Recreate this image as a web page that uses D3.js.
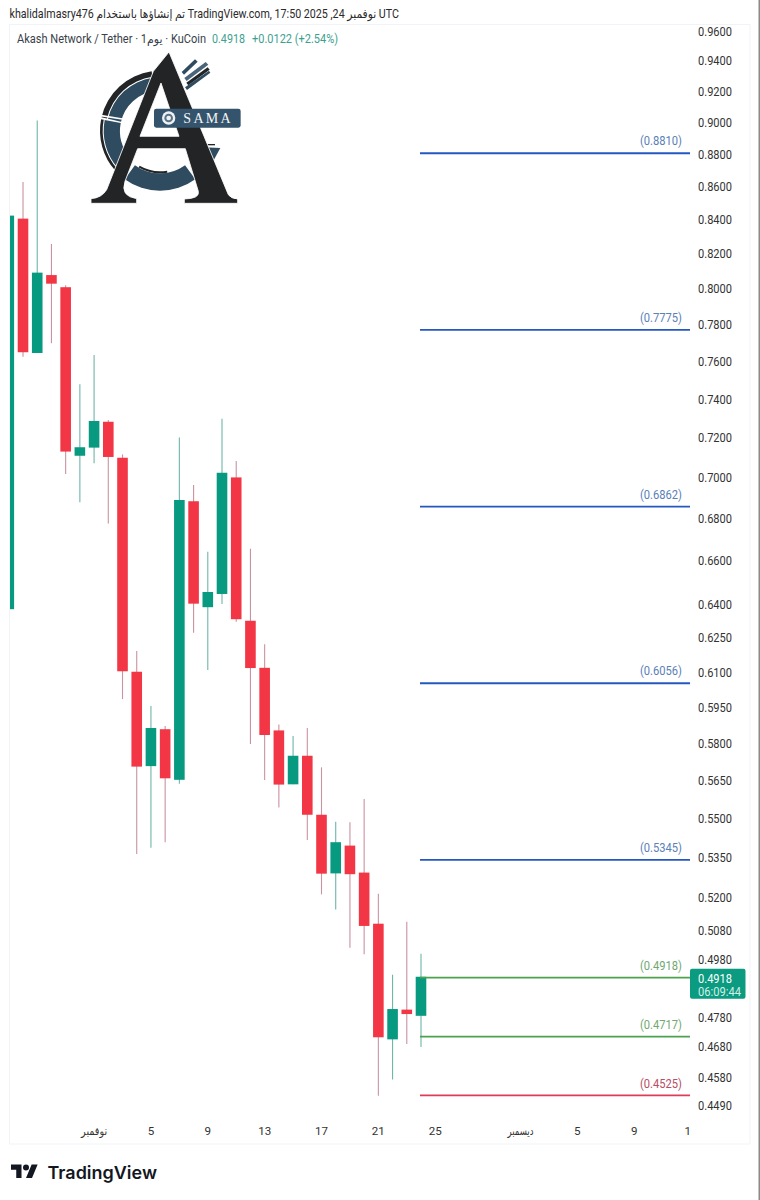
<!DOCTYPE html>
<html>
<head>
<meta charset="utf-8">
<style>
  html, body { margin: 0; padding: 0; background: #fff; }
  text { font-family: Roboto, "DejaVu Sans", sans-serif; }
</style>
</head>
<body>
<div id="chart"></div>
<script src="https://cdn.jsdelivr.net/npm/d3@7"></script>
<script>
// Daily candles, 26 Oct 2025 to 24 Nov 2025
var firstDay = new Date(Date.UTC(2025, 9, 26));
var lastDay = new Date(Date.UTC(2025, 10, 24));

var openP  = [0.6378, 0.8407, 0.7645, 0.8078, 0.8009, 0.7109, 0.7150, 0.7282, 0.7099, 0.6102, 0.5708, 0.5859, 0.5653, 0.6884, 0.6387, 0.6447, 0.7001, 0.6326, 0.6119, 0.5854, 0.5635, 0.5750, 0.5515, 0.5291, 0.5396, 0.5294, 0.5106, 0.4705, 0.4805, 0.4784];
var highP  = [0.8425, 0.8628, 0.9011, 0.8258, 0.8020, 0.7478, 0.7634, 0.7291, 0.7116, 0.6192, 0.5956, 0.5872, 0.7202, 0.6964, 0.6643, 0.7298, 0.7083, 0.6657, 0.6222, 0.5879, 0.5831, 0.5864, 0.5703, 0.5488, 0.5486, 0.5577, 0.5215, 0.4925, 0.5113, 0.4999];
var lowP   = [0.6378, 0.7625, 0.7645, 0.7698, 0.7018, 0.6879, 0.7071, 0.6777, 0.5985, 0.5364, 0.5388, 0.5409, 0.5637, 0.6273, 0.6110, 0.6401, 0.6322, 0.5798, 0.5652, 0.5543, 0.5635, 0.5417, 0.5213, 0.5158, 0.5020, 0.4997, 0.4521, 0.4573, 0.4690, 0.4680];
var closeP = [0.8425, 0.7649, 0.8092, 0.8029, 0.7130, 0.7152, 0.7286, 0.7103, 0.6104, 0.5706, 0.5864, 0.5659, 0.6890, 0.6403, 0.6456, 0.7024, 0.6333, 0.6118, 0.5835, 0.5634, 0.5750, 0.5515, 0.5290, 0.5409, 0.5288, 0.5098, 0.4712, 0.4807, 0.4790, 0.4918];

// Horizontal levels drawn on the chart
var levelPrices = [0.8810, 0.7775, 0.6862, 0.6056, 0.5345, 0.4918, 0.4717, 0.4525];
var levelKinds  = ["blue", "blue", "blue", "blue", "blue", "green", "green", "red"];

// Axis ticks
var priceTicks = [0.96, 0.94, 0.92, 0.90, 0.88, 0.86, 0.84, 0.82, 0.80, 0.78, 0.76, 0.74, 0.72, 0.70, 0.68, 0.66, 0.64, 0.625, 0.61, 0.595, 0.58, 0.565, 0.55, 0.535, 0.52, 0.508, 0.498, 0.478, 0.468, 0.458, 0.449];
var timeTicks = [[2025, 10, 1], [2025, 10, 5], [2025, 10, 9], [2025, 10, 13], [2025, 10, 17], [2025, 10, 21], [2025, 10, 25], [2025, 11, 1], [2025, 11, 5], [2025, 11, 9], [2025, 11, 13]];
var timeLabels = ["نوفمبر", "5", "9", "13", "17", "21", "25", "ديسمبر", "5", "9", "13"];

var lastPrice = 0.4918;
var countdown = "06:09:44";

var svgWidth = 760;
var svgHeight = 1200;

var colors = {
  up: "#089981", down: "#f23645", upWick: "#6fb5aa", downWick: "#c9939f",
  blue: "#2458c0", green: "#4ba24f", red: "#dc3d58",
  blueText: "#5a80b8", greenText: "#6fa871", redText: "#b84d63",
  frame: "#f0f3f7", text: "#333"
};

var svg = d3.select("#chart")
  .append("svg")
  .attr("width", svgWidth)
  .attr("height", svgHeight)
  .style("display", "block");

svg.append("rect").attr("width", svgWidth).attr("height", svgHeight).attr("fill", "#fff");
svg.append("rect").attr("x", 758.5).attr("width", 1.5).attr("height", svgHeight).attr("fill", "#8a8a8a");

// Chart frame
svg.append("rect")
  .attr("x", 9.5).attr("y", 24.5)
  .attr("width", 740.5).attr("height", 1119.5)
  .attr("fill", "none")
  .attr("stroke", colors.frame);

// Scales
var x = d3.scaleUtc().domain([firstDay, lastDay]).range([8.8, 421]);
var y = d3.scaleLog().domain([0.449, 0.96]).range([1105.5, 31]);

var defs = svg.append("defs");
defs.append("clipPath").attr("id", "plotClip").append("rect")
  .attr("x", 10).attr("y", 25).attr("width", 680).attr("height", 1095);
defs.append("clipPath").attr("id", "timeClip").append("rect")
  .attr("x", 10).attr("y", 1115).attr("width", 679.5).attr("height", 28);

// Text squeezed sideways to the width it has in the picture
function squeeze(sel, width) {
  return sel.attr("textLength", width).attr("lengthAdjust", "spacingAndGlyphs");
}

// Logo sits behind the candles
drawLogo(svg.append("g").attr("transform", "translate(85,48) scale(0.3333)"));

// Candles
var days = d3.utcDay.range(firstDay, d3.utcDay.offset(lastDay, 1));
var candles = days.map(function(day, i) {
  return { day: day, open: openP[i], high: highP[i], low: lowP[i], close: closeP[i] };
});

var plot = svg.append("g").attr("clip-path", "url(#plotClip)");
var bodyWidth = 10.6;

plot.selectAll(".wick")
  .data(candles)
  .enter()
  .append("line")
  .attr("class", "wick")
  .attr("x1", d => x(d.day))
  .attr("x2", d => x(d.day))
  .attr("y1", d => y(d.high))
  .attr("y2", d => y(d.low))
  .attr("stroke", d => d.close >= d.open ? colors.upWick : colors.downWick)
  .attr("stroke-width", 1.1);

plot.selectAll(".body")
  .data(candles)
  .enter()
  .append("rect")
  .attr("class", "body")
  .attr("x", d => x(d.day) - bodyWidth / 2)
  .attr("y", d => y(Math.max(d.open, d.close)))
  .attr("width", bodyWidth)
  .attr("height", d => Math.abs(y(d.open) - y(d.close)))
  .attr("fill", d => d.close >= d.open ? colors.up : colors.down);

// Levels with their labels
var levels = levelPrices.map(function(p, i) { return { price: p, kind: levelKinds[i] }; });

plot.selectAll(".level")
  .data(levels)
  .enter()
  .append("line")
  .attr("class", "level")
  .attr("x1", x(lastDay) - 1)
  .attr("x2", 690)
  .attr("y1", d => y(d.price) + 0.8)
  .attr("y2", d => y(d.price) + 0.8)
  .attr("stroke", d => colors[d.kind])
  .attr("stroke-width", 1.8);

plot.selectAll(".levelLabel")
  .data(levels)
  .enter()
  .append("text")
  .attr("class", "levelLabel")
  .attr("x", 640)
  .attr("y", d => y(d.price) - 7)
  .attr("font-size", "12px")
  .attr("fill", d => colors[d.kind + "Text"])
  .call(squeeze, 42)
  .text(d => "(" + d.price.toFixed(4) + ")");

// Price axis
var rightAxis = d3.axisRight(y)
  .tickValues(priceTicks)
  .tickFormat(d3.format(".4f"))
  .tickSize(0)
  .tickPadding(8);

var priceAxis = svg.append("g")
  .attr("transform", "translate(690, 0)")
  .call(rightAxis);
priceAxis.select(".domain").remove();
priceAxis.selectAll("text")
  .attr("fill", colors.text)
  .style("font-size", "12.5px")
  .style("font-family", "Roboto, sans-serif")
  .call(squeeze, 34);

// Time axis, the last label gets cut by the price column
var bottomAxis = d3.axisBottom(x)
  .tickValues(timeTicks.map(t => new Date(Date.UTC(t[0], t[1], t[2]))))
  .tickFormat((d, i) => timeLabels[i])
  .tickSize(0)
  .tickPadding(0);

var timeAxis = svg.append("g")
  .attr("clip-path", "url(#timeClip)")
  .append("g")
  .attr("transform", "translate(-0.5, 1126.5)")
  .call(bottomAxis);
timeAxis.select(".domain").remove();
timeAxis.selectAll("text")
  .attr("fill", colors.text)
  .style("font-size", "11.6px")
  .style("font-family", "Roboto, 'DejaVu Sans', sans-serif");
timeAxis.selectAll("text")
  .filter((d, i) => isNaN(+timeLabels[i]))
  .call(squeeze, 26);

// Last price tag
svg.append("rect")
  .attr("x", 690)
  .attr("y", y(lastPrice) - 8)
  .attr("width", 55.5)
  .attr("height", 30)
  .attr("rx", 2)
  .attr("fill", "#0a9b80");
svg.append("text")
  .attr("x", 698).attr("y", y(lastPrice) + 6)
  .attr("font-size", "12.5px").attr("fill", "#fff")
  .call(squeeze, 34)
  .text(d3.format(".4f")(lastPrice));
svg.append("text")
  .attr("x", 698).attr("y", y(lastPrice) + 19)
  .attr("font-size", "12px").attr("fill", "#d4efe8")
  .call(squeeze, 43)
  .text(countdown);

// Header texts
svg.append("text")
  .attr("x", 9.5).attr("y", 18)
  .attr("font-size", "12.2px").attr("fill", "#2a2a2a")
  .call(squeeze, 389.5)
  .text("khalidalmasry476 تم إنشاؤها باستخدام TradingView.com, 17:50 2025 ,24 نوفمبر UTC");
svg.append("text")
  .attr("x", 17).attr("y", 43)
  .attr("font-size", "12px").attr("fill", "#3a3f4a")
  .call(squeeze, 189)
  .text("Akash Network / Tether · 1يوم · KuCoin");
svg.append("text")
  .attr("x", 212).attr("y", 43)
  .attr("font-size", "12px").attr("fill", "#3e9f90")
  .call(squeeze, 33)
  .text("0.4918");
svg.append("text")
  .attr("x", 252).attr("y", 43)
  .attr("font-size", "12px").attr("fill", "#3e9f90")
  .call(squeeze, 86)
  .text("+0.0122 (+2.54%)");

// TradingView mark
var tv = svg.append("g").attr("transform", "translate(11,1161.5) scale(0.75)").attr("fill", "#131722");
tv.append("path").attr("d", "M14 22H7V11H0V4h14v18zM28 22h-8l7.5-18h8L28 22z");
tv.append("circle").attr("cx", 20).attr("cy", 8).attr("r", 4);
svg.append("text")
  .attr("x", 47.5).attr("y", 1178.5)
  .attr("font-size", "17.5px")
  .attr("font-weight", 600)
  .attr("fill", "#131722")
  .style("font-family", "Inter, sans-serif")
  .call(squeeze, 109.5)
  .text("TradingView");

function drawLogo(g) {
  var navy = "#2f4b60";
  var dark = "#222426";
  var ring = d3.arc();
  var rad = Math.PI / 180;
  var ringGroup = g.append("g").attr("transform", "translate(225,248)");

  // top-left part of the ring, dark rim over navy
  ringGroup.append("path").attr("fill", dark)
    .attr("d", ring({ innerRadius: 163, outerRadius: 180, startAngle: -77 * rad, endAngle: -8 * rad }));
  ringGroup.append("path").attr("fill", navy)
    .attr("d", ring({ innerRadius: 120, outerRadius: 160, startAngle: -77 * rad, endAngle: -8 * rad }));
  // lower-left part
  ringGroup.append("path").attr("fill", dark)
    .attr("d", ring({ innerRadius: 172, outerRadius: 180, startAngle: -132 * rad, endAngle: -79 * rad }));
  ringGroup.append("path").attr("fill", navy)
    .attr("d", ring({ innerRadius: 120, outerRadius: 169, startAngle: -132 * rad, endAngle: -79 * rad }));
  // bottom part
  ringGroup.append("path").attr("fill", navy)
    .attr("d", ring({ innerRadius: 128, outerRadius: 180, startAngle: -216 * rad, endAngle: -144 * rad }));
  ringGroup.append("path").attr("fill", dark)
    .attr("d", ring({ innerRadius: 122, outerRadius: 128, startAngle: -190 * rad, endAngle: -150 * rad }));

  // arrows at top right
  g.append("path").attr("fill", navy).attr("d", "M290,72 L330,34 L338,41 L297,80 Z");
  g.append("path").attr("fill", "#4a6579").attr("d", "M298,90 L362,42 L370,50 L305,99 Z");
  g.append("path").attr("fill", dark).attr("d", "M304,104 L368,58 L374,65 L310,112 Z");
  g.append("path").attr("fill", navy).attr("d", "M300,118 L372,68 L376,74 L306,126 Z");

  // small piece on the right
  g.append("path").attr("fill", navy).attr("d", "M358,298 L406,300 L378,352 Z");
  g.append("rect").attr("x", 358).attr("y", 288).attr("width", 32).attr("height", 4).attr("fill", dark);

  // the letter, with a pale seam on its left side
  g.append("path")
    .attr("d", "M252,12 L430,440 Q438,452 458,453 L458,466 L298,466 L298,453 Q345,452 340,430 L301,302 L158,302 L120,400 Q105,445 155,452 L155,466 L18,466 L18,452 Q50,450 65,425 L205,70 Z M228,105 L165,265 L282,265 Z")
    .attr("fill", dark)
    .attr("fill-rule", "evenodd")
    .attr("stroke", "#fff")
    .attr("stroke-width", 2.5);

  // separator across the ring
  g.append("line").attr("x1", 48).attr("y1", 203).attr("x2", 112).attr("y2", 213)
    .attr("stroke", "#fff").attr("stroke-width", 5);

  // name badge
  g.append("rect").attr("x", 207).attr("y", 182).attr("width", 260).attr("height", 57).attr("rx", 7).attr("fill", "#34536c");
  g.append("circle").attr("cx", 251).attr("cy", 210).attr("r", 20).attr("fill", "#eef2f5");
  g.append("circle").attr("cx", 251).attr("cy", 210).attr("r", 13).attr("fill", "#5c7486");
  g.append("circle").attr("cx", 251).attr("cy", 210).attr("r", 7).attr("fill", "#eef2f5");
  g.append("text")
    .attr("x", 295).attr("y", 226)
    .attr("font-size", "42px")
    .attr("letter-spacing", "7px")
    .attr("fill", "#f3f5f7")
    .style("font-family", "'Liberation Serif', serif")
    .text("SAMA");
}
</script>
</body>
</html>
